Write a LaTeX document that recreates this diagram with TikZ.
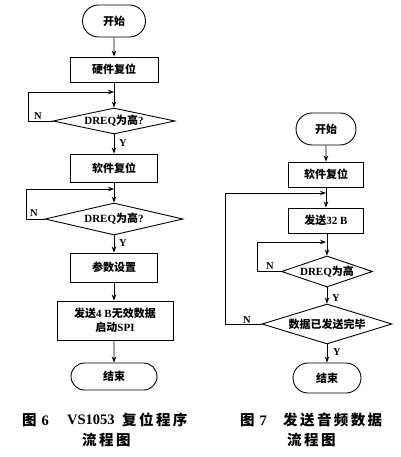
\documentclass[tikz,border=0pt]{standalone}
\usepackage{fontspec}
\setmainfont{Liberation Serif}
\IfFontExistsTF{Noto Sans CJK SC Bold}
  {\newfontfamily\cjk{Noto Sans CJK SC Bold}}
  {\newfontfamily\cjk{Noto Sans CJK SC}[FakeBold=1.5]}
\newcommand{\zh}[1]{{\cjk #1}}
\newcommand{\gp}{\hspace{2.4pt}}
\usetikzlibrary{shapes.geometric,shapes.misc,arrows.meta}
\tikzset{
  txt/.style={font=\fontsize{11}{14}\selectfont\bfseries},
  proc/.style={txt, draw, rectangle, line width=0.9pt, inner sep=0pt, align=center},
  term/.style={txt, draw, rounded rectangle, line width=0.9pt, inner sep=0pt},
  dec/.style={txt, draw, diamond, line width=0.9pt, inner sep=0pt},
  arr/.style={-{Stealth[length=6pt,width=4.5pt]}, line width=0.9pt},
  lbl/.style={font=\fontsize{10.5}{12}\selectfont\bfseries, inner sep=0pt},
  capt/.style={font=\fontsize{14.5}{17}\selectfont\bfseries, inner sep=0pt, anchor=west}
}
\begin{document}
\begin{tikzpicture}[x=1pt,y=-1pt]
\useasboundingbox (0,0) rectangle (400,457);
% ---------- left chart ----------
\node[term, minimum width=63pt, minimum height=32pt] (s1) at (114,21) {\zh{开始}};
\node[proc, minimum width=88pt, minimum height=25pt] (hw) at (114,69.5) {\zh{硬件复位}};
\node[dec, minimum width=122pt, minimum height=26pt, shape aspect=4.7] (d1) at (114,121) {DREQ\zh{为高}?};
\node[proc, minimum width=87pt, minimum height=28pt] (sw) at (114,168) {\zh{软件复位}};
\node[dec, minimum width=138pt, minimum height=32pt, shape aspect=4.3] (d2) at (114,219) {DREQ\zh{为高}?};
\node[proc, minimum width=87pt, minimum height=29pt] (par) at (114,267.5) {\zh{参数设置}};
\node[proc, minimum width=116pt, minimum height=39pt] (snd) at (115,320.5) {\zh{发送}4 B\zh{无效数据}\\\zh{启动}SPI};
\node[term, minimum width=86pt, minimum height=27pt] (e1) at (114,376.5) {\zh{结束}};

\coordinate (l1a) at (28,92);
\coordinate (j1) at (114,92);
\coordinate (l2a) at (26,189);
\coordinate (j2) at (114,189);

\draw[arr] (s1) -- (hw);
\draw[arr] (hw) -- (d1);
\draw[arr] (d1.west) -| (l1a) -- (j1);
\draw[arr] (d1) -- (sw);
\draw[arr] (sw) -- (d2);
\draw[arr] (d2.west) -| (l2a) -- (j2);
\draw[arr] (d2) -- (par);
\draw[arr] (par.south) -- (par.south |- snd.north);
\draw[arr] (snd.south -| e1.north) -- (e1);

\node[lbl] (n1) at (38,116) {N};
\node[lbl] (n2) at (34,213) {N};
\node[lbl] (y1) at (123,143) {Y};
\node[lbl] (y2) at (123,243) {Y};

% ---------- right chart ----------
\node[term, minimum width=60pt, minimum height=32pt] (s2) at (326,129) {\zh{开始}};
\node[proc, minimum width=75pt, minimum height=25pt] (sw2) at (326,174.5) {\zh{软件复位}};
\node[proc, minimum width=75pt, minimum height=25pt] (s32) at (326,220.5) {\zh{发送}32 B};
\node[dec, minimum width=91pt, minimum height=31pt, shape aspect=2.9] (d3) at (327,271.5) {DREQ\zh{为高}};
\node[dec, minimum width=130pt, minimum height=40pt, shape aspect=3.25] (d4) at (327,324) {\zh{数据已发送完毕}};
\node[term, minimum width=68pt, minimum height=30pt] (e2) at (327,378) {\zh{结束}};

\coordinate (l3a) at (225,193);
\coordinate (j3) at (326,193);
\coordinate (l4a) at (257,242);
\coordinate (j4) at (326,242);

\draw[arr] (s2) -- (sw2);
\draw[arr] (sw2) -- (s32);
\draw[arr] (d4.west) -| (l3a) -- (j3);
\draw[arr] (s32.south) -- (s32.south -| d3.north) -- (d3.north);
\draw[arr] (d3.west) -| (l4a) -- (j4);
\draw[arr] (d3) -- (d4);
\draw[arr] (d4) -- (e2);

\node[lbl] (n3) at (270,266) {N};
\node[lbl] (n4) at (247,320) {N};
\node[lbl] (y3) at (336,298) {Y};
\node[lbl] (y4) at (337,352) {Y};

% ---------- captions ----------
\node[capt] (c6a) at (22,420) {\zh{图}\hspace{5pt}6};
\node[capt] (c6b) at (67,420) {VS1053};
\node[capt] (c6d) at (122,420) {\zh{复\gp 位\gp 程\gp 序}};
\node[capt] (c6c) at (82,440) {\zh{流\gp 程\gp 图}};
\node[capt] (c7a) at (240,420) {\zh{图}\hspace{5pt}7};
\node[capt] (c7b) at (283,420) {\zh{发\gp 送\gp 音\gp 频\gp 数\gp 据}};
\node[capt] (c7c) at (287,440) {\zh{流\gp 程\gp 图}};
\end{tikzpicture}
\end{document}
